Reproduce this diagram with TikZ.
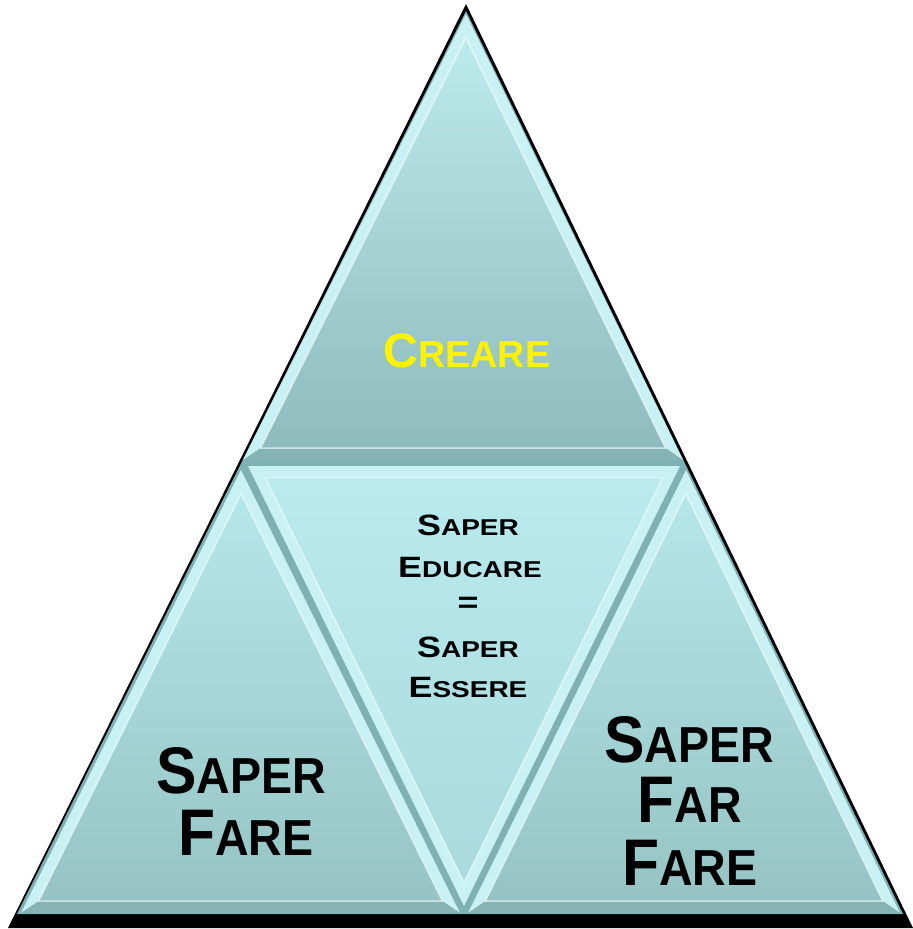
\documentclass[tikz,border=0pt]{standalone}
\usepackage{fontspec}
\setmainfont{Liberation Sans}
\newfontfamily\widefont[FakeStretch=1.22]{Liberation Sans}
\newfontfamily\narrowfont[FakeStretch=0.92]{Liberation Sans}
\usetikzlibrary{calc}

\definecolor{bandhi}{HTML}{C9F1F3}
\definecolor{bandlo}{HTML}{86B3B4}
\definecolor{gapcol}{HTML}{7DB1B3}
\definecolor{toptop}{HTML}{BCEBEC}
\definecolor{topbot}{HTML}{8EBBBB}
\definecolor{sidetop}{HTML}{B5E7EA}
\definecolor{sidebot}{HTML}{96C4C4}
\definecolor{midtop}{HTML}{B8EAEE}
\definecolor{midbot}{HTML}{A9DADD}

\newcommand{\sw}[2]{#1{\fontsize{\rsz}{\rsz}\selectfont #2}}
\newcommand{\bevtri}[5]{%
  \coordinate (g) at (barycentric cs:#1=1,#2=1,#3=1);
  \coordinate (i1) at ($(#1)!0.08!(g)$);
  \coordinate (i2) at ($(#2)!0.08!(g)$);
  \coordinate (i3) at ($(#3)!0.08!(g)$);
  \fill[bandhi] (#1)--(#2)--(i2)--(i1)--cycle;
  \fill[bandhi] (#1)--(#3)--(i3)--(i1)--cycle;
  \fill[#5] (#2)--(#3)--(i3)--(i2)--cycle;
  \shade[#4] (i1)--(i2)--(i3)--cycle;
  \draw[white, opacity=0.6, line width=1.2pt] (i1)--(i2)--(i3)--cycle;
}

\tikzset{
  crtxt/.style={font=\fontsize{41}{41}\selectfont\bfseries\def\rsz{32}, text=yellow, anchor=base, inner sep=0pt},
  midtxt/.style={font=\widefont\fontsize{25}{25}\selectfont\bfseries\def\rsz{19.5}, anchor=base, inner sep=0pt},
  bigtxt/.style={font=\narrowfont\fontsize{56}{56}\selectfont\bfseries\def\rsz{43}, anchor=base, inner sep=0pt},
  topshade/.style={top color=toptop, bottom color=topbot},
  sideshade/.style={top color=sidetop, bottom color=sidebot},
  midshade/.style={top color=midtop, bottom color=midbot},
}

\begin{document}
\begin{tikzpicture}[x=0.85pt, y=-0.85pt]
  \useasboundingbox (0,0) rectangle (913,929);
  \fill[black] (466,4) -- (8,928) -- (913,928) -- cycle;
  \fill[gapcol] (466,11) -- (17,914) -- (903,914) -- cycle;

  \coordinate (tA) at (466,14);
  \coordinate (tB) at (243,460);
  \coordinate (tC) at (683,460);
  \coordinate (lA) at (241,470);
  \coordinate (lB) at (21,913);
  \coordinate (lC) at (460,913);
  \coordinate (mA) at (464,906);
  \coordinate (mB) at (248,466);
  \coordinate (mC) at (680,466);
  \coordinate (rA) at (686,470);
  \coordinate (rB) at (468,913);
  \coordinate (rC) at (900,913);

  \bevtri{tA}{tB}{tC}{topshade}{bandlo}
  \bevtri{lA}{lB}{lC}{sideshade}{bandlo}
  \bevtri{rA}{rB}{rC}{sideshade}{bandlo}
  \bevtri{mA}{mB}{mC}{midshade}{bandhi}

  \node[crtxt] (creare) at (467,367) {\sw{C}{REARE}};

  \node[midtxt] (edu1) at (468,535) {\sw{S}{APER}};
  \node[midtxt] (edu2) at (470,577) {\sw{E}{DUCARE}};
  \node[midtxt] (edu3) at (468,612) {=};
  \node[midtxt] (edu4) at (468,657) {\sw{S}{APER}};
  \node[midtxt] (edu5) at (468,697) {\sw{E}{SSERE}};

  \node[bigtxt] (fare1) at (241,793) {\sw{S}{APER}};
  \node[bigtxt] (fare2) at (246,855) {\sw{F}{ARE}};

  \node[bigtxt] (ff1) at (689,762) {\sw{S}{APER}};
  \node[bigtxt] (ff2) at (690,822) {\sw{F}{AR}};
  \node[bigtxt] (ff3) at (690,885) {\sw{F}{ARE}};
\end{tikzpicture}
\end{document}
